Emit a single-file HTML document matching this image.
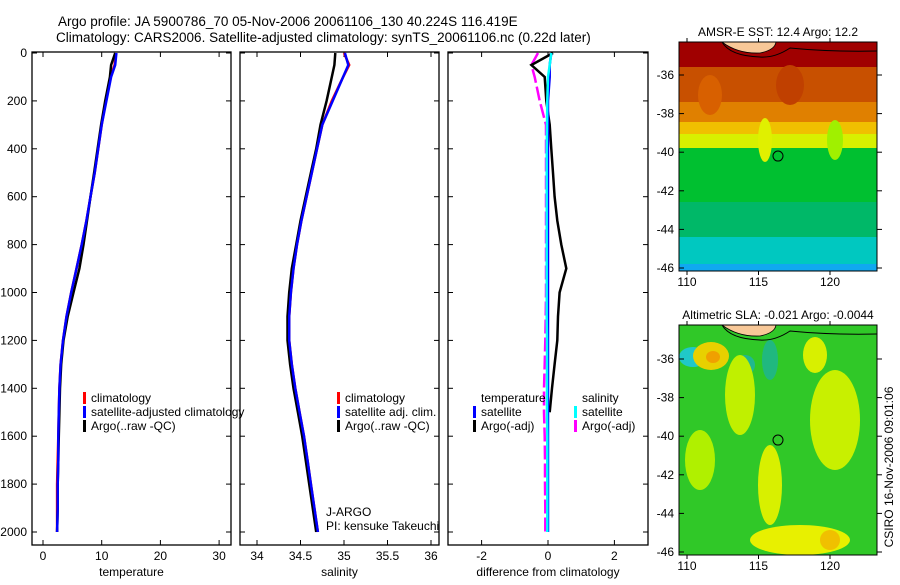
<!DOCTYPE html>
<html><head><meta charset="utf-8"><style>
body{margin:0;background:#fff;width:900px;height:580px;overflow:hidden;font-family:"Liberation Sans",sans-serif}
svg text{font-family:"Liberation Sans",sans-serif;font-size:12px;fill:#000}
</style></head><body>
<svg id="c" width="900" height="580">
<text x="58" y="26" style="font-size:13.5px">Argo profile: JA 5900786_70 05-Nov-2006 20061106_130 40.224S 116.419E</text>
<text x="56" y="42" style="font-size:13.5px">Climatology: CARS2006. Satellite-adjusted climatology: synTS_20061106.nc (0.22d later)</text>
<g id="maps"></g>
<g id="plots"></g>
</svg>
<script>
const depths=[0,50,100,200,300,400,500,600,700,800,900,1000,1100,1200,1300,1400,1500,1600,1700,1800,1900,2000];
const tempClim=[12.4,12.2,11.5,10.7,10.0,9.4,8.8,8.1,7.4,6.6,5.7,4.8,4.0,3.4,3.0,2.8,2.7,2.6,2.5,2.4,2.4,2.4];
const tempSat=[12.5,12.3,11.6,10.8,10.0,9.4,8.8,8.1,7.4,6.6,5.7,4.8,4.0,3.4,3.0,2.8,2.7,2.6,2.6,2.5,2.5,2.4];
const tempArgo=[12.3,11.6,11.4,10.6,9.9,9.3,8.7,8.1,7.5,6.9,6.2,5.2,4.2,3.5,3.1,2.9,2.8,2.7,2.6,2.5,2.5,2.4];
const salClim=[35.00,35.06,34.99,34.86,34.75,34.69,34.63,34.57,34.51,34.46,34.42,34.39,34.37,34.37,34.40,34.44,34.49,34.54,34.58,34.62,34.66,34.70];
const salSat=[35.01,35.05,34.99,34.87,34.75,34.69,34.63,34.57,34.51,34.46,34.42,34.39,34.37,34.37,34.40,34.44,34.49,34.54,34.58,34.62,34.66,34.70];
const salArgo=[34.90,34.89,34.86,34.80,34.73,34.68,34.62,34.56,34.50,34.45,34.40,34.37,34.35,34.35,34.38,34.42,34.47,34.52,34.56,34.60,34.64,34.68];
const dTempSat=[0.1,0.05,0.05,0.0,0.0,0.0,0.0,0.0,0.0,0.0,0.0,0.0,0.0,0.0,0.0,0.0,0.0,0.0,0.0,0.0,0.0,0.0];
const dTempArgo=[0.15,-0.5,-0.1,-0.05,0.05,0.1,0.15,0.2,0.28,0.4,0.55,0.35,0.3,0.28,0.2,0.12,0.05,null,null,null,null,null];
const dSalSat=[0.1,0.05,0.0,-0.02,-0.03,-0.04,-0.04,-0.04,-0.04,-0.04,-0.04,-0.04,-0.04,-0.03,-0.03,-0.03,-0.03,-0.02,-0.02,-0.02,-0.02,-0.02];
const dSalArgo=[-0.3,-0.5,-0.4,-0.25,-0.06,-0.06,-0.06,-0.06,-0.06,-0.06,-0.06,-0.06,-0.07,-0.08,-0.1,-0.12,-0.12,-0.1,-0.09,-0.09,-0.08,-0.08];
const depthTicks=[0,200,400,600,800,1000,1200,1400,1600,1800,2000];
const tempTicks=[0,10,20,30];
const salTicks=[34,34.5,35,35.5,36];
const diffTicks=[-2,0,2];
const lonTicks=[110,115,120];
const latTicks=[36,38,40,42,44,46];

const NS='http://www.w3.org/2000/svg';
const P=document.getElementById('plots');
function el(t,a,p){const e=document.createElementNS(NS,t);for(const k in a)e.setAttribute(k,a[k]);(p||P).appendChild(e);return e;}
const yD=d=>53+d*0.2395;
const panels=[
 {l:32,r:231,v0:0,px0:43,s:5.87,ticks:tempTicks,label:'temperature',name:'temperature-panel'},
 {l:240,r:439,v0:34,px0:257,s:87,ticks:salTicks,label:'salinity',name:'salinity-panel'},
 {l:448,r:648,v0:0,px0:548,s:33.2,ticks:diffTicks,label:'difference from climatology',name:'difference-panel'}];
panels.forEach((p,i)=>{
 const g=el('g',{});
 
 
 const fr=el('rect',{x:p.l,y:52,width:p.r-p.l,height:493,fill:'none',stroke:'#000','stroke-width':1.3},g);
 
 
 p.ticks.forEach(t=>{const x=p.px0+(t-p.v0)*p.s;
  el('line',{x1:x,x2:x,y1:545,y2:540,stroke:'#000'},g);el('line',{x1:x,x2:x,y1:52,y2:57,stroke:'#000'},g);
  const tx=el('text',{x:x,y:560,'text-anchor':'middle'},g);tx.textContent=String(t);
  
  });
 const xl=el('text',{x:(p.l+p.r)/2,y:576,'text-anchor':'middle'},g);xl.textContent=p.label;
 
 
 depthTicks.forEach(d=>{const y=yD(d);
  el('line',{x1:p.l,x2:p.l+5,y1:y,y2:y,stroke:'#000'},g);el('line',{x1:p.r,x2:p.r-5,y1:y,y2:y,stroke:'#000'},g);
  if(i==0){const tx=el('text',{x:27,y:y+4,'text-anchor':'end'},g);tx.textContent=String(d);
   
   }});
 p.g=g;
});
function line(p,vals,color,w,name,dash){
 let d='';let pen=false;
 vals.forEach((v,i)=>{if(v==null){pen=false;return;}const x=p.px0+(v-p.v0)*p.s,y=yD(depths[i]);d+=(pen?'L':'M')+x.toFixed(1)+' '+y.toFixed(1)+' ';pen=true;});
 const e=el('path',{d:d,fill:'none',stroke:color,'stroke-width':w},p.g);
 if(dash)e.setAttribute('stroke-dasharray',dash);
 
 
}
line(panels[0],tempClim,'#f00',2.5,'temperature-climatology-line');
line(panels[0],tempArgo,'#000',2.5,'temperature-argo-line');
line(panels[0],tempSat,'#00f',2.5,'temperature-satellite-line');
line(panels[1],salClim,'#f00',2.5,'salinity-climatology-line');
line(panels[1],salArgo,'#000',2.5,'salinity-argo-line');
line(panels[1],salSat,'#00f',2.5,'salinity-satellite-line');
line(panels[2],dSalArgo,'#f0f',2.5,'salinity-argo-diff-line','14 4');
line(panels[2],dTempArgo,'#000',2.5,'temperature-argo-diff-line');
line(panels[2],dTempSat,'#00f',2.5,'temperature-satellite-diff-line');
line(panels[2],dSalSat,'#0ff',2.5,'salinity-satellite-diff-line');
function leg(x,y,color,txt,g){el('rect',{x:x,y:y-10,width:3,height:12,fill:color},g);const t=el('text',{x:x+8,y:y},g);t.textContent=txt;
 
 }
leg(83,402,'#f00','climatology',panels[0].g);
leg(83,416,'#00f','satellite-adjusted climatology',panels[0].g);
leg(83,430,'#000','Argo(..raw -QC)',panels[0].g);
leg(337,402,'#f00','climatology',panels[1].g);
leg(337,416,'#00f','satellite adj. clim.',panels[1].g);
leg(337,430,'#000','Argo(..raw -QC)',panels[1].g);
let t=el('text',{x:481,y:402},panels[2].g);t.textContent='temperature';


t=el('text',{x:582,y:402},panels[2].g);t.textContent='salinity';


leg(473,416,'#00f','satellite',panels[2].g);
leg(473,430,'#000','Argo(-adj)',panels[2].g);
leg(574,416,'#0ff','satellite',panels[2].g);
leg(574,430,'#f0f','Argo(-adj)',panels[2].g);
t=el('text',{x:326,y:516},panels[1].g);t.textContent='J-ARGO';


t=el('text',{x:326,y:530},panels[1].g);t.textContent='PI: kensuke Takeuchi';



// maps
const M=document.getElementById('maps');
const sstBands=[['#a00000',0,25],['#c85000',25,60],['#e08000',60,80],['#f0c000',80,92],['#d8f000',92,106],['#00c030',106,160],['#00b868',160,195],['#00c8c0',195,222],['#10a8f0',222,230]];
const slaBlobs=[[693,357,14,10,'#20c8c8'],[711,356,18,14,'#e8d000'],[713,357,7,6,'#f0a000'],[745,365,10,10,'#20b890'],[770,360,8,20,'#20b880'],[815,355,12,18,'#d8f000'],[740,395,15,40,'#c0f000'],[835,420,25,50,'#c8f000'],[770,485,12,40,'#d8f000'],[800,540,50,15,'#e8f000'],[830,540,10,10,'#f0c000'],[700,460,15,30,'#b0f000']];
function mapFrame(top,bot,latTop,latStep,title,name,draw){
 const g=el('g',{},M);
 
 
 const cp=el('clipPath',{id:name+'-clip'},g);el('rect',{x:679,y:top,width:198,height:bot-top},cp);
 const inner=el('g',{'clip-path':'url(#'+name+'-clip)'},g);
 draw(inner);
 el('path',{d:`M722 ${top} Q730 ${top+14} 760 ${top+15} Q775 ${top+16} 790 ${top+6} Q830 ${top+10} 877 ${top+9}`,fill:'none',stroke:'#000','stroke-width':1},inner);
 el('path',{d:`M722 ${top} Q738 ${top+12} 760 ${top+11} Q775 ${top+8} 776 ${top} Z`,fill:'#f8c898',stroke:'#000','stroke-width':0.8},inner);
 el('circle',{cx:778,cy:latTop+4.2*latStep,r:5,fill:'none',stroke:'#000'},inner);
 el('rect',{x:679,y:top,width:198,height:bot-top,fill:'none',stroke:'#000'},g);
 latTicks.forEach(l=>{const y=latTop+(l-36)*latStep;el('line',{x1:877,x2:882,y1:y,y2:y,stroke:'#000'},g);el('line',{x1:679,x2:684,y1:y,y2:y,stroke:'#000'},g);
  const tx=el('text',{x:674,y:y+4,'text-anchor':'end'},g);tx.textContent='-'+l;
  
  });
 lonTicks.forEach(l=>{const x=687+(l-110)*14.3;el('line',{x1:x,x2:x,y1:bot,y2:bot+4,stroke:'#000'},g);el('line',{x1:x,x2:x,y1:top,y2:top-4,stroke:'#000'},g);
  const tx=el('text',{x:x,y:bot+15,'text-anchor':'middle'},g);tx.textContent=String(l);
  
  });
 const tt=el('text',{x:778,y:top-6,'text-anchor':'middle'},g);tt.textContent=title;
 
 
}
mapFrame(42,271,75,19.3,'AMSR-E SST: 12.4 Argo: 12.2','sst-map',g=>{
 sstBands.forEach(b=>el('rect',{x:679,y:42+b[1],width:198,height:b[2]-b[1],fill:b[0]},g));
 [[765,140,7,22,'#e0f000'],[835,140,8,20,'#a0f000'],[710,95,12,20,'#d86000'],[790,85,14,20,'#c04000']].forEach(b=>el('ellipse',{cx:b[0],cy:b[1],rx:b[2],ry:b[3],fill:b[4]},g));
});
mapFrame(325,555,359,19.3,'Altimetric SLA: -0.021 Argo: -0.0044','sla-map',g=>{
 el('rect',{x:679,y:325,width:198,height:230,fill:'#30c828'},g);
 slaBlobs.forEach(b=>el('ellipse',{cx:b[0],cy:b[1],rx:b[2],ry:b[3],fill:b[4]},g));
});
t=el('text',{x:893,y:467,transform:'rotate(-90 893 467)','text-anchor':'middle'},M);t.textContent='CSIRO 16-Nov-2006 09:01:06';


</script>
</body></html>
